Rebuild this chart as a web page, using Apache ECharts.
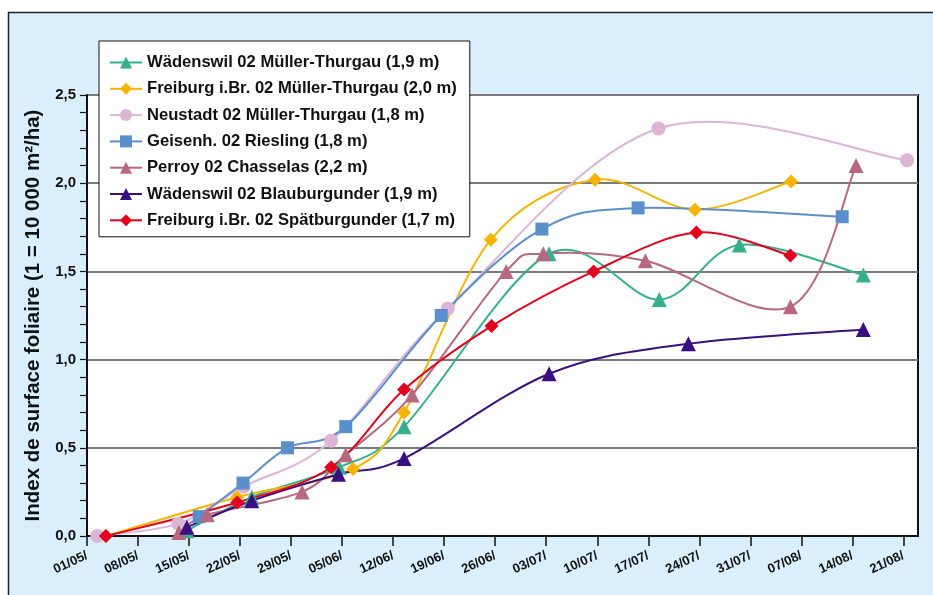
<!DOCTYPE html>
<html><head><meta charset="utf-8">
<script src="https://cdn.jsdelivr.net/npm/echarts@6/dist/echarts.min.js"></script>
<style>html,body{margin:0;padding:0;background:#fff}#c{width:933px;height:595px}</style>
</head><body><div id="c"></div>
<script>
// x values: days since 01/05
const tickLabels = ['01/05/','08/05/','15/05/','22/05/','29/05/','05/06/','12/06/','19/06/','26/06/','03/07/','10/07/','17/07/','24/07/','31/07/','07/08/','14/08/','21/08/'];
const yTicks = [0, 0.5, 1.0, 1.5, 2.0, 2.5];

const names = [
  'Wädenswil 02 Müller-Thurgau (1,9 m)',
  'Freiburg i.Br. 02 Müller-Thurgau (2,0 m)',
  'Neustadt 02 Müller-Thurgau (1,8 m)',
  'Geisenh. 02 Riesling (1,8 m)',
  'Perroy 02 Chasselas (2,2 m)',
  'Wädenswil 02 Blauburgunder (1,9 m)',
  'Freiburg i.Br. 02 Spätburgunder (1,7 m)'
];
const wadMTDays = [13.7, 22.6, 34.6, 43.5, 63.4, 78.5, 89.5, 106.5];
const wadMTVals = [0.03, 0.22, 0.39, 0.62, 1.60, 1.34, 1.65, 1.48];
const frbMTDays = [2.6, 20.6, 36.5, 43.5, 55.4, 69.7, 83.4, 96.6];
const frbMTVals = [0.00, 0.22, 0.38, 0.70, 1.68, 2.02, 1.85, 2.01];
const neuMTDays = [1.4, 12.5, 21.5, 33.5, 49.5, 78.4, 112.5];
const neuMTVals = [0.00, 0.07, 0.28, 0.54, 1.29, 2.31, 2.13];
const geiRiDays = [15.4, 21.4, 27.5, 35.5, 48.6, 62.4, 75.6, 103.6];
const geiRiVals = [0.11, 0.30, 0.50, 0.62, 1.25, 1.74, 1.86, 1.81];
const perChDays = [12.6, 16.5, 29.5, 35.5, 44.6, 57.5, 62.6, 76.6, 96.5, 105.5];
const perChVals = [0.02, 0.12, 0.25, 0.46, 0.80, 1.50, 1.60, 1.56, 1.30, 2.10];
const wadBBDays = [13.7, 22.6, 34.5, 43.5, 63.4, 82.5, 106.5];
const wadBBVals = [0.05, 0.20, 0.35, 0.44, 0.92, 1.09, 1.17];
const frbSBDays = [2.6, 20.6, 33.5, 43.5, 55.5, 69.5, 83.6, 96.5];
const frbSBVals = [0.00, 0.19, 0.39, 0.83, 1.19, 1.50, 1.72, 1.59];

const colors = ['#35b08c', '#f4b400', '#dcb5d6', '#5b8fcb', '#b7687f', '#3a0f82', '#e3001f'];
const symbols = ['triangle', 'diamond', 'circle', 'rect', 'triangle', 'triangle', 'diamond'];
const sizes = [15, 14, 14, 13, 15, 15, 14];
const dayArr = [wadMTDays, frbMTDays, neuMTDays, geiRiDays, perChDays, wadBBDays, frbSBDays];
const valArr = [wadMTVals, frbMTVals, neuMTVals, geiRiVals, perChVals, wadBBVals, frbSBVals];

const FONT = 'Liberation Sans, Arial, sans-serif';
const chart = echarts.init(document.getElementById('c'), null, {renderer: 'canvas'});
const tickVals = tickLabels.map((_, i) => i * 7);

// Catmull-Rom style smoothing (spreadsheet-like) through library coordinates
function smoothPath(pts) {
  let d = 'M' + pts[0][0] + ' ' + pts[0][1];
  for (let i = 0; i < pts.length - 1; i++) {
    const p0 = pts[i - 1] || pts[i], p1 = pts[i], p2 = pts[i + 1], p3 = pts[i + 2] || pts[i + 1];
    const c1x = p1[0] + (p2[0] - p0[0]) / 6, c1y = p1[1] + (p2[1] - p0[1]) / 6;
    const c2x = p2[0] - (p3[0] - p1[0]) / 6, c2y = p2[1] - (p3[1] - p1[1]) / 6;
    d += ' C' + c1x + ' ' + c1y + ' ' + c2x + ' ' + c2y + ' ' + p2[0] + ' ' + p2[1];
  }
  return d;
}

const series = [];
names.forEach((n, i) => {
  series.push({
    name: n + ' ~curve',
    type: 'custom',
    coordinateSystem: 'cartesian2d',
    data: [[dayArr[i][0], valArr[i][0]]],
    encode: {x: 0, y: 1},
    silent: true,
    z: 2,
    renderItem: (params, api) => {
      const pts = dayArr[i].map((d, k) => api.coord([d, valArr[i][k]]));
      return {
        type: 'path',
        shape: {pathData: smoothPath(pts)},
        style: {fill: 'none', stroke: colors[i], lineWidth: 2}
      };
    }
  });
});
names.forEach((n, i) => {
  series.push({
    name: n,
    type: 'line',
    data: dayArr[i].map((d, k) => [d, valArr[i][k]]),
    symbol: symbols[i],
    symbolSize: sizes[i],
    showAllSymbol: true,
    lineStyle: {color: colors[i], width: 2, opacity: 0},
    itemStyle: {color: colors[i]},
    emphasis: {disabled: true},
    z: 3 + i
  });
});

chart.setOption({
  animation: false,
  backgroundColor: '#ffffff',
  graphic: [{
    type: 'rect', z: -10, silent: true,
    shape: {x: 8.5, y: 12.5, width: 940, height: 600},
    style: {fill: '#dbeefb', stroke: '#222', lineWidth: 1.5}
  }],
  grid: {
    left: 87, top: 95, right: 15, bottom: 59,
    show: true, backgroundColor: '#ffffff', borderColor: '#111', borderWidth: 2
  },
  legend: {
    orient: 'vertical',
    left: 99, top: 41,
    width: 380,
    padding: [13, 13, 8, 10],
    itemGap: 9.3,
    itemWidth: 32, itemHeight: 15,
    backgroundColor: '#ffffff',
    borderColor: '#111', borderWidth: 1,
    textStyle: {fontFamily: FONT, fontWeight: 'bold', fontSize: 16.6, color: '#111'},
    data: names.map((n, i) => ({name: n, lineStyle: {color: colors[i], width: 2, opacity: 1}}))
  },
  xAxis: {
    type: 'value', min: 0, max: 114,
    axisLine: {lineStyle: {color: '#111', width: 2}},
    axisTick: {show: true, length: 10, customValues: tickVals, lineStyle: {color: '#111', width: 1.5}},
    axisLabel: {
      customValues: tickVals,
      rotate: 25, margin: 19,
      fontFamily: FONT, fontWeight: 'bold', fontSize: 13, color: '#111',
      formatter: v => tickLabels[Math.round(v / 7)] || ''
    },
    splitLine: {show: false}
  },
  yAxis: {
    type: 'value', min: 0, max: 2.5, interval: 0.5,
    name: 'Index de surface foliaire (1 = 10 000 m²/ha)',
    nameLocation: 'middle', nameGap: 42, nameRotate: 90,
    nameTextStyle: {fontFamily: FONT, fontWeight: 'bold', fontSize: 20.5, color: '#111'},
    axisLine: {show: true, lineStyle: {color: '#111', width: 2}},
    axisTick: {show: true, length: 7, lineStyle: {color: '#111', width: 1.2}},
    minorTick: {show: true, splitNumber: 5, length: 7, lineStyle: {color: '#111', width: 1.2}},
    axisLabel: {
      margin: 11,
      fontFamily: FONT, fontWeight: 'bold', fontSize: 15, color: '#111',
      customValues: yTicks,
      formatter: v => v.toFixed(1).replace('.', ',')
    },
    splitLine: {show: true, lineStyle: {color: '#7a7a7a', width: 2}}
  },
  series: series
});
</script></body></html>
